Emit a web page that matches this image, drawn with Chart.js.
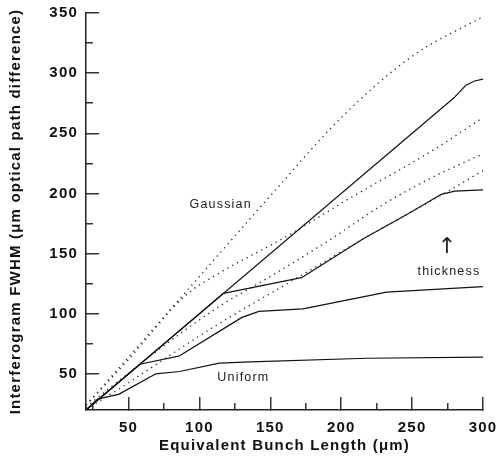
<!DOCTYPE html>
<html>
<head>
<meta charset="utf-8">
<script src="https://cdn.jsdelivr.net/npm/chart.js@4.4.1/dist/chart.umd.min.js"></script>
<style>
  html, body { margin: 0; padding: 0; background: #fff; }
</style>
</head>
<body>
<canvas id="chart" width="498" height="461"></canvas>
<script>
// Gaussian bunch profiles (dotted), thin -> thick
const gauss1X = [20, 50, 100, 150, 200, 250, 300];
const gauss1Y = [24, 64, 131, 198, 263, 314, 347];
const gauss2X = [20, 50, 90, 110, 164, 206, 262, 300];
const gauss2Y = [24, 62, 115, 131, 166, 196, 234, 263];
const gauss3X = [20, 29, 110, 150, 194, 227, 262, 300];
const gauss3Y = [22, 31, 103, 131, 163, 189, 212, 233];
const gauss4X = [20, 29, 110, 172, 218, 250, 274, 300];
const gauss4Y = [21, 27, 89, 132, 164, 185, 201, 219];

// Uniform bunch profiles (solid)
const uni1X = [20, 280, 288, 294, 300];
const uni1Y = [20, 280, 290, 293.5, 295];
const uni2X = [20, 117, 172, 215, 250, 270, 280, 300];
const uni2Y = [20, 117, 130, 162, 185, 199, 202, 203];
const uni3X = [20, 58, 86, 130, 142, 173, 232, 300];
const uni3Y = [20, 58, 65, 97, 102, 104, 118, 122.5];
const uni4X = [20, 28, 43, 69, 86, 114, 136, 218, 300];
const uni4Y = [20, 29, 33, 50, 52, 59, 60, 63, 64];

// Axis ticks
const ticksXMajor = [50, 100, 150, 200, 250, 300];
const ticksXMinor = [25, 75, 125, 175, 225, 275];
const ticksYMajor = [50, 100, 150, 200, 250, 300, 350];
const ticksYMinor = [75, 125, 175, 225, 275, 325];

const toPoints = (xs, ys) => xs.map((x, i) => ({ x: x, y: ys[i] }));

const dotted = (xs, ys) => ({
    data: toPoints(xs, ys),
    borderColor: '#333',
    borderWidth: 1.4,
    borderDash: [1.3, 4.2],
    pointRadius: 0,
    cubicInterpolationMode: 'monotone',
    fill: false
});
const solid = (xs, ys) => ({
    data: toPoints(xs, ys),
    borderColor: '#111',
    borderWidth: 1.2,
    borderJoinStyle: 'round',
    pointRadius: 0,
    tension: 0,
    fill: false
});

// Text written inside the plot (data coordinates)
const notes = [
    { text: 'Gaussian', x: 115, y: 191 },
    { text: 'Uniform', x: 131, y: 47 },
    { text: 'thickness', x: 276, y: 135 },
    { text: '\u2191', x: 275, y: 155, size: 22, family: '"DejaVu Sans", sans-serif' }
];

const spacing = {
    id: 'spacing',
    afterInit(chart) { chart.ctx.letterSpacing = '1.2px'; },
    beforeUpdate(chart) { chart.ctx.letterSpacing = '1.2px'; },
    beforeLayout(chart) { chart.ctx.letterSpacing = '1.2px'; },
    beforeDraw(chart) { chart.ctx.letterSpacing = '1.2px'; }
};

const labels = {
    id: 'labels',
    afterDatasetsDraw(chart) {
        const ctx = chart.ctx;
        const xs = chart.scales.x, ys = chart.scales.y;
        ctx.save();
        ctx.fillStyle = '#222';
        ctx.textAlign = 'center';
        ctx.textBaseline = 'middle';
        notes.forEach(n => {
            ctx.font = (n.size || 12.5) + 'px ' + (n.family || '"Liberation Sans", Arial, sans-serif');
            ctx.fillText(n.text, xs.getPixelForValue(n.x), ys.getPixelForValue(n.y));
        });
        ctx.restore();
    }
};

const tickFont = { family: '"Liberation Sans", Arial, sans-serif', size: 15, weight: 'bold' };
const titleFont = { family: '"Liberation Sans", Arial, sans-serif', size: 15, weight: 'bold' };

new Chart(document.getElementById('chart').getContext('2d'), {
    type: 'line',
    data: {
        datasets: [
            dotted(gauss1X, gauss1Y),
            dotted(gauss2X, gauss2Y),
            dotted(gauss3X, gauss3Y),
            dotted(gauss4X, gauss4Y),
            solid(uni1X, uni1Y),
            solid(uni2X, uni2Y),
            solid(uni3X, uni3Y),
            solid(uni4X, uni4Y)
        ]
    },
    options: {
        responsive: false,
        animation: false,
        devicePixelRatio: 1,
        layout: { padding: { top: 13, right: 15, left: 0, bottom: 0 } },
        plugins: { legend: { display: false }, tooltip: { enabled: false } },
        scales: {
            x: {
                type: 'linear', position: 'bottom', min: 20, max: 300,
                afterBuildTicks: s => { s.ticks = ticksXMajor.map(v => ({ value: v })); },
                afterFit: s => { s.height = 51; s.paddingLeft = 0; s.paddingRight = 0; },
                border: { display: true, color: '#222', width: 1.5 },
                grid: { drawOnChartArea: false, drawTicks: true, tickLength: -13, color: '#333', lineWidth: 1.5 },
                ticks: { color: '#111', font: tickFont, padding: 22, maxRotation: 0, callback: v => String(v) },
                title: { display: true, text: 'Equivalent Bunch Length (\u03bcm)', color: '#111', font: titleFont, padding: { top: 0, bottom: 6 } }
            },
            y: {
                type: 'linear', position: 'left', min: 20, max: 350,
                afterBuildTicks: s => { s.ticks = ticksYMajor.map(v => ({ value: v })); },
                afterFit: s => { s.width = 86; s.paddingTop = 0; s.paddingBottom = 0; },
                border: { display: true, color: '#222', width: 1.5 },
                grid: { drawOnChartArea: false, drawTicks: true, tickLength: -13, color: '#333', lineWidth: 1.5 },
                ticks: { color: '#111', font: tickFont, padding: 21, callback: v => String(v) },
                title: { display: true, text: 'Interferogram FWHM (\u03bcm optical path difference)', color: '#111', font: titleFont, padding: { top: 7, bottom: 0 } }
            },
            x2: {
                type: 'linear', position: { y: 20 }, min: 20, max: 300,
                afterBuildTicks: s => { s.ticks = ticksXMinor.map(v => ({ value: v })); },
                border: { display: false },
                grid: { drawOnChartArea: false, drawTicks: true, tickLength: -7, color: '#333', lineWidth: 1.5 },
                ticks: { display: false }
            },
            y2: {
                type: 'linear', position: { x: 20 }, min: 20, max: 350,
                afterBuildTicks: s => { s.ticks = ticksYMinor.map(v => ({ value: v })); },
                border: { display: false },
                grid: { drawOnChartArea: false, drawTicks: true, tickLength: -7, color: '#333', lineWidth: 1.5 },
                ticks: { display: false }
            }
        }
    },
    plugins: [spacing, labels]
});
</script>
</body>
</html>
